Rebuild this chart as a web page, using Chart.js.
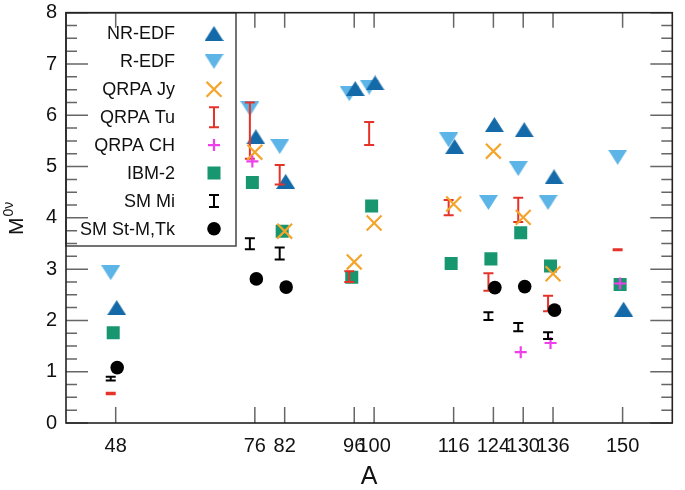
<!DOCTYPE html>
<html>
<head>
<meta charset="utf-8">
<script src="https://cdn.jsdelivr.net/npm/chart.js@4.4.0/dist/chart.umd.min.js"></script>
<style>
    html, body { margin: 0; padding: 0; background: #fff; }
</style>
</head>
<body>
<canvas id="chart" width="685" height="490"></canvas>
<script>
// Data (A = mass number, values = M0v)
const massTicks = [48, 76, 82, 96, 100, 116, 124, 130, 136, 150];

const nrEdfA = [48, 76, 82, 96, 100, 116, 124, 130, 136, 150];
const nrEdfM = [2.25, 5.58, 4.71, 6.52, 6.63, 5.39, 5.82, 5.72, 4.80, 2.22];

const rEdfA = [48, 76, 82, 96, 100, 116, 124, 130, 136, 150];
const rEdfM = [2.93, 6.13, 5.39, 6.42, 6.55, 5.52, 4.30, 4.96, 4.30, 5.18];

const qrpaJyA = [76, 82, 96, 100, 116, 124, 130, 136];
const qrpaJyM = [5.28, 3.74, 3.14, 3.90, 4.27, 5.30, 4.01, 2.91];

const qrpaTuA = [48, 76, 82, 96, 100, 116, 124, 130, 136, 150];
const qrpaTuLow = [0.56, 5.15, 4.65, 2.75, 5.42, 4.05, 2.58, 3.92, 2.18, 3.37];
const qrpaTuHigh = [0.59, 6.25, 5.03, 2.96, 5.87, 4.35, 2.92, 4.39, 2.48, 3.39];

const qrpaChA = [76, 130, 136, 150];
const qrpaChM = [5.10, 1.38, 1.56, 2.72];

const ibm2A = [48, 76, 82, 96, 100, 116, 124, 130, 136, 150];
const ibm2M = [1.76, 4.69, 3.74, 2.84, 4.23, 3.11, 3.20, 3.71, 3.06, 2.70];

const smMiA = [48, 76, 82, 124, 130, 136];
const smMiLow = [0.83, 3.39, 3.19, 2.01, 1.79, 1.64];
const smMiHigh = [0.90, 3.60, 3.42, 2.16, 1.95, 1.77];

const smStA = [48, 76, 82, 124, 130, 136];
const smStM = [1.08, 2.81, 2.65, 2.64, 2.66, 2.20];

// Colours
const C_NR = '#146aa8';
const C_R = '#5cb5e6';
const C_JY = '#f4a52c';
const C_TU = '#e5332a';
const C_CH = '#ee40ea';
const C_IBM = '#17966f';
const C_BLACK = '#000000';

const FONT = '"Liberation Sans", Arial, Helvetica, sans-serif';

// small canvas markers for the (slightly flat) triangles
function triangleMarker(color, down) {
    const w = 19, h = 15;
    const cv = document.createElement('canvas');
    cv.width = w; cv.height = h;
    const c = cv.getContext('2d');
    c.fillStyle = color;
    c.beginPath();
    if (down) {
        c.moveTo(0, 0); c.lineTo(w, 0); c.lineTo(w / 2, h);
    } else {
        c.moveTo(w / 2, 0); c.lineTo(w, h); c.lineTo(0, h);
    }
    c.closePath();
    c.fill();
    return cv;
}
const upTri = triangleMarker(C_NR, false);
const downTri = triangleMarker(C_R, true);

// points are nudged a little sideways in the figure, per series
function pts(as, ms, shift) {
    return as.map((a, i) => ({ x: a + shift, y: ms[i] }));
}
function mids(as, lo, hi, shift) {
    return as.map((a, i) => ({ x: a + shift, y: (lo[i] + hi[i]) / 2 }));
}

const datasets = [
    { label: 'NR-EDF', data: pts(nrEdfA, nrEdfM, 0.2), pointStyle: upTri, order: 7 },
    { label: 'R-EDF', data: pts(rEdfA, rEdfM, -1.0), pointStyle: downTri, order: 8 },
    { label: 'QRPA Jy', data: pts(qrpaJyA, qrpaJyM, 0), pointStyle: 'crossRot', pointRadius: 10.5,
      pointBorderColor: C_JY, pointBorderWidth: 2.2, order: 4 },
    { label: 'QRPA Tu', data: mids(qrpaTuA, qrpaTuLow, qrpaTuHigh, -1.0), pointRadius: 0,
      errLow: qrpaTuLow, errHigh: qrpaTuHigh, errColor: C_TU, order: 5 },
    { label: 'QRPA CH', data: pts(qrpaChA, qrpaChM, -0.5), pointStyle: 'cross', pointRadius: 6,
      pointBorderColor: C_CH, pointBorderWidth: 2.2, order: 3 },
    { label: 'IBM-2', data: pts(ibm2A, ibm2M, -0.5), pointStyle: 'rect', pointRadius: 9.2,
      pointBackgroundColor: C_IBM, pointBorderWidth: 0, order: 6 },
    { label: 'SM Mi', data: mids(smMiA, smMiLow, smMiHigh, -1.0), pointRadius: 0,
      errLow: smMiLow, errHigh: smMiHigh, errColor: C_BLACK, order: 2 },
    { label: 'SM St-M,Tk', data: pts(smStA, smStM, 0.3), pointStyle: 'circle', pointRadius: 6.8,
      pointBackgroundColor: C_BLACK, pointBorderWidth: 0, order: 1 }
];
datasets.forEach(d => { d.showLine = false; d.pointHoverRadius = d.pointRadius; });

// error bars (I shape) drawn right after their own dataset
function drawErrBar(ctx, x, y1, y2, color, cap) {
    ctx.save();
    ctx.strokeStyle = color;
    ctx.lineWidth = 2;
    ctx.beginPath();
    ctx.moveTo(x, y1); ctx.lineTo(x, y2);
    ctx.moveTo(x - cap / 2, y1); ctx.lineTo(x + cap / 2, y1);
    ctx.moveTo(x - cap / 2, y2); ctx.lineTo(x + cap / 2, y2);
    ctx.stroke();
    ctx.restore();
}

const errorBars = {
    id: 'errorBars',
    afterDatasetDraw(chart, args) {
        const ds = chart.data.datasets[args.index];
        if (!ds.errLow) return;
        const xs = chart.scales.x, ys = chart.scales.y;
        ds.data.forEach((p, i) => {
            drawErrBar(chart.ctx, xs.getPixelForValue(p.x),
                ys.getPixelForValue(ds.errLow[i]), ys.getPixelForValue(ds.errHigh[i]),
                ds.errColor, 10);
        });
    }
};

// legend box, y title, frame and inward ticks
const decorations = {
    id: 'decorations',
    afterDraw(chart) {
        const ctx = chart.ctx;
        const a = chart.chartArea;
        const xs = chart.scales.x, ys = chart.scales.y;

        // legend
        const boxRight = 236, boxBottom = 246;
        ctx.save();
        ctx.fillStyle = '#fff';
        ctx.fillRect(a.left, a.top, boxRight - a.left, boxBottom - a.top);
        ctx.strokeStyle = '#444';
        ctx.lineWidth = 1.5;
        ctx.strokeRect(a.left, a.top, boxRight - a.left, boxBottom - a.top);
        ctx.font = '18px ' + FONT;
        ctx.textAlign = 'right';
        ctx.textBaseline = 'middle';
        const legendOrder = datasets.map((d, i) => i);
        legendOrder.forEach((i, row) => {
            const d = datasets[i];
            const ly = 33.5 + row * 27.9;
            ctx.fillStyle = '#111';
            ctx.fillText(d.label, 175, ly + 1);
            const mx = 214;
            if (d.errLow) {
                const hh = d.label === 'QRPA Tu' ? 10 : 6;
                drawErrBar(ctx, mx, ly - hh, ly + hh, d.errColor, 10);
            } else {
                ctx.fillStyle = d.pointBackgroundColor || '#000';
                ctx.strokeStyle = d.pointBorderColor || '#000';
                ctx.lineWidth = d.pointBorderWidth || 0;
                Chart.helpers.drawPoint(ctx, {
                    pointStyle: d.pointStyle, radius: d.pointRadius || 9,
                    rotation: 0, borderWidth: d.pointBorderWidth || 0
                }, mx, ly);
            }
        });
        ctx.restore();

        // frame ticks
        ctx.save();
        ctx.strokeStyle = '#666';
        ctx.lineWidth = 1.5;
        ctx.beginPath();
        for (let v = 0; v <= 8.001; v += 0.25) {
            const py = ys.getPixelForValue(v);
            const len = Math.abs(v - Math.round(v)) < 1e-6 ? 22 : 11;
            ctx.moveTo(a.left, py); ctx.lineTo(a.left + len, py);
            ctx.moveTo(a.right, py); ctx.lineTo(a.right - len, py);
        }
        massTicks.forEach(v => {
            const px = xs.getPixelForValue(v);
            ctx.moveTo(px, a.bottom); ctx.lineTo(px, a.bottom - 16);
            ctx.moveTo(px, a.top); ctx.lineTo(px, a.top + 15);
        });
        ctx.stroke();
        ctx.strokeStyle = '#222';
        ctx.lineWidth = 1.6;
        ctx.strokeRect(a.left, a.top, a.right - a.left, a.bottom - a.top);
        ctx.restore();

        // y title M^{0v}
        ctx.save();
        ctx.translate(23, 235);
        ctx.rotate(-Math.PI / 2);
        ctx.fillStyle = '#111';
        ctx.textAlign = 'left';
        ctx.textBaseline = 'alphabetic';
        ctx.font = '21px ' + FONT;
        ctx.fillText('M', 0, 0);
        const mw = ctx.measureText('M').width;
        ctx.font = '14px ' + FONT;
        ctx.fillText('0\u03bd', mw + 1, -10);
        ctx.restore();
    }
};

const chart = new Chart(document.getElementById('chart'), {
    type: 'scatter',
    data: { datasets: datasets },
    options: {
        responsive: false,
        animation: false,
        events: [],
        layout: { padding: { top: 9.5, right: 3, left: 0, bottom: 0 } },
        plugins: { legend: { display: false }, tooltip: { enabled: false } },
        scales: {
            x: {
                type: 'linear', min: 38, max: 160,
                afterBuildTicks: s => { s.ticks = massTicks.map(v => ({ value: v })); },
                afterFit: s => { s.height = 67; s.paddingLeft = 0; s.paddingRight = 0; },
                grid: { display: false, drawTicks: false },
                border: { display: false },
                ticks: { autoSkip: false, maxRotation: 0, padding: 11, color: '#111',
                         font: { family: FONT, size: 20 } },
                title: { display: true, text: 'A', color: '#111', padding: { top: 0, bottom: 0 },
                         font: { family: FONT, size: 25, lineHeight: 1 } }
            },
            y: {
                min: 0, max: 8,
                afterFit: s => { s.width = 66; s.paddingTop = 0; s.paddingBottom = 0; },
                grid: { display: false, drawTicks: false },
                border: { display: false },
                ticks: { stepSize: 1, padding: 9, color: '#111',
                         font: { family: FONT, size: 20 } }
            }
        }
    },
    plugins: [errorBars, decorations]
});
</script>
</body>
</html>
